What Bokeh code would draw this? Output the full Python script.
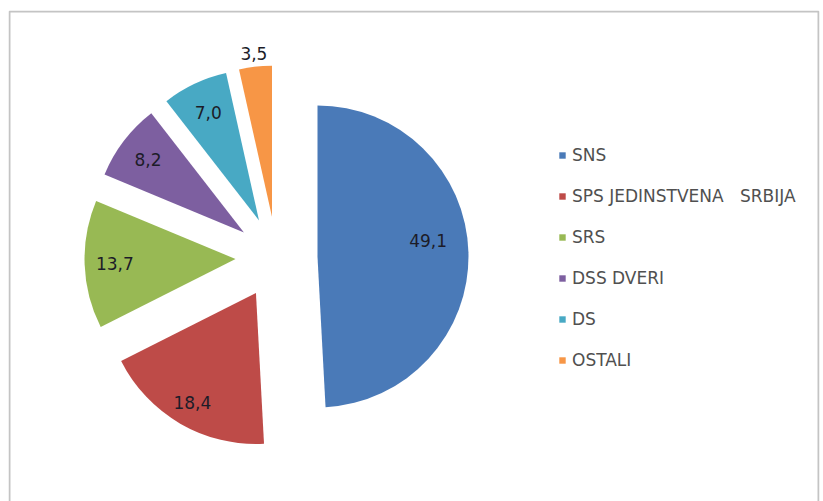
import numpy as np
from bokeh.plotting import figure
from bokeh.models import ColumnDataSource, Range1d, Legend, LegendItem, BoxAnnotation
from bokeh.embed import file_html
from bokeh.resources import INLINE
from bokeh.core.properties import value

# ---- data ----
parties = ["SNS", "SPS JEDINSTVENA   SRBIJA", "SRS", "DSS DVERI", "DS", "OSTALI"]
shares = [49.1, 18.4, 13.7, 8.2, 7.0, 3.5]
share_labels = ["49,1", "18,4", "13,7", "8,2", "7,0", "3,5"]

# ---- styles / layout ----
colors = ["#4a7ab8", "#be4b48", "#98b954", "#7d5fa0", "#48a9c4", "#f79646"]
label_radius = [0.74, 0.84, 0.80, 0.80, 0.79, 1.09]
label_angle_shift_deg = [6.6, 0, 0, 0, 0, 0]

W, H = 823, 501
ML, MT, MR = 8, 10, 4
FW, FH = W - ML - MR, H - MT
cx, cy = 268, 244
R = 151
EXPLODE = 41

vals = np.array(shares, dtype=float)
frac = vals / vals.sum()
f1 = np.cumsum(frac)
f0 = f1 - frac
start = np.pi / 2 - 2 * np.pi * f1
end = np.pi / 2 - 2 * np.pi * f0
mid = (start + end) / 2
xs = cx + EXPLODE * np.cos(mid)
ys = cy + EXPLODE * np.sin(mid)
lr = np.array(label_radius) * R
la = mid + np.radians(label_angle_shift_deg)
lx = xs + lr * np.cos(la)
ly = ys + lr * np.sin(la)

src = ColumnDataSource(dict(x=xs, y=ys, start=start, end=end, color=colors,
                            party=parties, lx=lx, ly=ly, lab=share_labels))

p = figure(width=W, height=H, output_backend="svg", toolbar_location=None,
           x_range=Range1d(0, FW), y_range=Range1d(0, FH),
           x_axis_type=None, y_axis_type=None,
           min_border_left=ML, min_border_right=MR, min_border_top=MT, min_border_bottom=0)
p.outline_line_color = None
p.background_fill_color = "white"
p.border_fill_color = "white"

# chart-area frame (no visible bottom edge, as in the reference)
p.add_layout(BoxAnnotation(left=1, right=FW - 1, top=FH - 1, bottom=-30,
                           fill_alpha=0, line_color="#c4c4c4", line_alpha=1.0,
                           line_width=2))

wr = p.wedge(x="x", y="y", radius=R, start_angle="start", end_angle="end",
             color="color", line_color=None, source=src)

p.text(x="lx", y="ly", text="lab", source=src, text_align="center",
       text_baseline="middle", text_font=value("DejaVu Sans"),
       text_font_size="17px", text_color="#1c1c28")

items = [LegendItem(label=parties[i], renderers=[wr], index=i) for i in range(len(parties))]
legend = Legend(items=items, location=(550, 131), orientation="vertical",
                glyph_width=8, glyph_height=8, label_height=20, spacing=21,
                padding=0, margin=0, label_standoff=6,
                label_text_font="DejaVu Sans", label_text_font_size="17px",
                label_text_color="#505050",
                border_line_color=None, background_fill_alpha=0)
p.add_layout(legend)

open("out.html", "w").write(file_html(p, INLINE))
